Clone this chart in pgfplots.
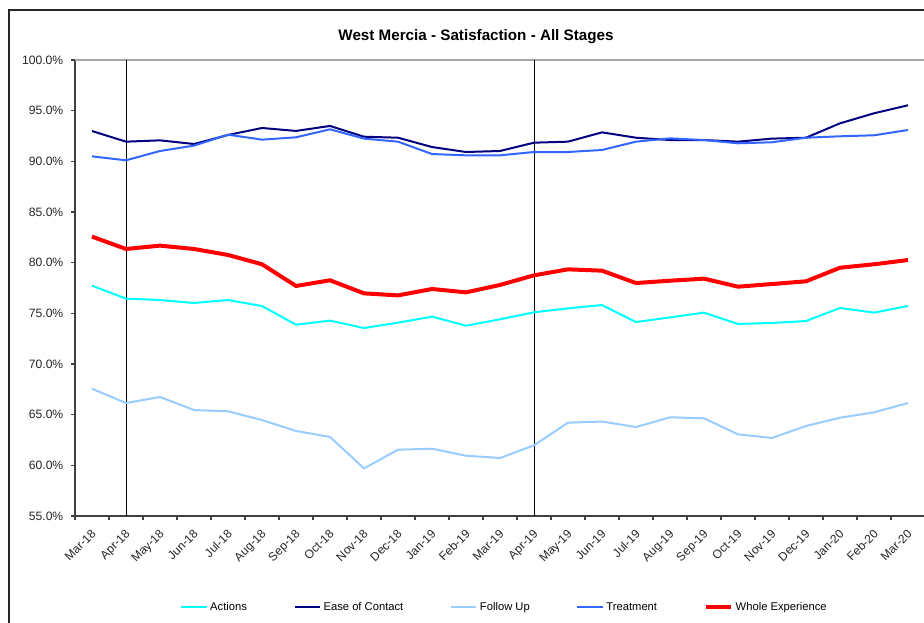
\documentclass[border=0pt]{standalone}
\usepackage{fontspec}
\setmainfont{Liberation Sans}
\usepackage{pgfplots}
\usepackage{pgfplotstable}
\pgfplotsset{compat=1.18}
\definecolor{cAct}{RGB}{0,255,255}
\definecolor{cEase}{RGB}{0,0,128}
\definecolor{cFol}{RGB}{153,204,255}
\definecolor{cTre}{RGB}{51,102,255}
\definecolor{cWho}{RGB}{255,0,0}
\pgfplotstableread{
x Actions Ease FollowUp Treatment Whole
0  77.73 92.99 67.56 90.49 82.57
1  76.45 91.94 66.15 90.10 81.35
2  76.31 92.07 66.74 91.02 81.68
3  76.02 91.71 65.46 91.55 81.35
4  76.31 92.60 65.33 92.63 80.76
5  75.72 93.29 64.47 92.14 79.84
6  73.88 93.00 63.39 92.37 77.70
7  74.28 93.49 62.80 93.16 78.26
8  73.55 92.43 59.70 92.24 76.97
9  74.08 92.33 61.54 91.94 76.77
10 74.67 91.41 61.64 90.72 77.40
11 73.78 90.92 60.95 90.59 77.07
12 74.41 91.02 60.72 90.59 77.80
13 75.10 91.84 61.97 90.92 78.75
14 75.49 91.94 64.21 90.92 79.34
15 75.82 92.86 64.32 91.12 79.21
16 74.14 92.33 63.78 91.94 77.99
17 74.60 92.10 64.74 92.27 78.22
18 75.07 92.10 64.64 92.10 78.42
19 73.95 91.94 63.06 91.78 77.63
20 74.05 92.24 62.70 91.88 77.89
21 74.24 92.33 63.88 92.33 78.16
22 75.53 93.75 64.70 92.47 79.50
23 75.07 94.74 65.23 92.57 79.84
24 75.72 95.53 66.15 93.09 80.26
}\datatable
\begin{document}
\begin{tikzpicture}
\useasboundingbox (0,0) rectangle (693pt,467.25pt);
\clip (0,0) rectangle (693pt,467.25pt);
\fill[white] (0,0) rectangle (693pt,467.25pt);
\draw[black!85, line width=1.5pt] (6.4pt,-10pt) -- (6.4pt,460.1pt) -- (720pt,460.1pt);
\node[font=\fontsize{11.4}{13}\selectfont\bfseries] at (357pt,439.5pt) {West Mercia - Satisfaction - All Stages};
\begin{axis}[
  at={(56.25pt,80.25pt)}, anchor=south west,
  scale only axis, width=637.5pt, height=342pt,
  xmin=-0.5, xmax=24.5, ymin=55, ymax=100,
  axis lines*=left,
  axis line style={black!75, line width=0.8pt},
  /pgf/number format/assume math mode=true,
  ytick={55,60,...,100},
  yticklabel={\pgfmathprintnumber[fixed,fixed zerofill,precision=1]{\tick}\%},
  yticklabel style={font=\fontsize{9.1}{10}\selectfont, color=black!85, xshift=-2.25pt},
  xtick={0,...,24},
  xticklabels={Mar-18,Apr-18,May-18,Jun-18,Jul-18,Aug-18,Sep-18,Oct-18,Nov-18,Dec-18,Jan-19,Feb-19,Mar-19,Apr-19,May-19,Jun-19,Jul-19,Aug-19,Sep-19,Oct-19,Nov-19,Dec-19,Jan-20,Feb-20,Mar-20},
  xticklabel style={font=\fontsize{9}{10}\selectfont, color=black!85, rotate=45, anchor=north east, inner sep=1pt, xshift=-4.2pt, yshift=-2.7pt},
  minor xtick={-0.5,0.5,...,24.5},
  major x tick style={draw=none},
  minor x tick style={black!75, line width=0.8pt},
  y tick style={black!75, line width=0.8pt},
  tick align=outside,
  major tick length=3pt, minor tick length=3pt,
  clip=false,
  legend columns=5,
  legend style={at={(0.1235,-0.2)}, anchor=west, draw=none, fill=none,
    font=\fontsize{8.4}{10}\selectfont, inner sep=0pt,
    /tikz/every even column/.append style={column sep=33pt}},
  legend image code/.code={\draw[#1] (0pt,0pt) -- (19pt,0pt);},
]
\draw[black!35, line width=0.8pt] (axis cs:-0.5,100) -- (axis cs:24.5,100);
\addplot[black, line width=0.75pt, forget plot] coordinates {(1,55) (1,100)};
\addplot[black, line width=0.75pt, forget plot] coordinates {(13,55) (13,100)};
\addplot[cAct, line width=1.5pt] table[x=x, y=Actions] {\datatable};
\addlegendentry{Actions}
\addplot[cEase, line width=1.5pt] table[x=x, y=Ease] {\datatable};
\addlegendentry{Ease of Contact}
\addplot[cFol, line width=1.5pt] table[x=x, y=FollowUp] {\datatable};
\addlegendentry{Follow Up}
\addplot[cTre, line width=1.5pt] table[x=x, y=Treatment] {\datatable};
\addlegendentry{Treatment}
\addplot[cWho, line width=3pt] table[x=x, y=Whole] {\datatable};
\addlegendentry{Whole Experience}
\end{axis}
\end{tikzpicture}
\end{document}
